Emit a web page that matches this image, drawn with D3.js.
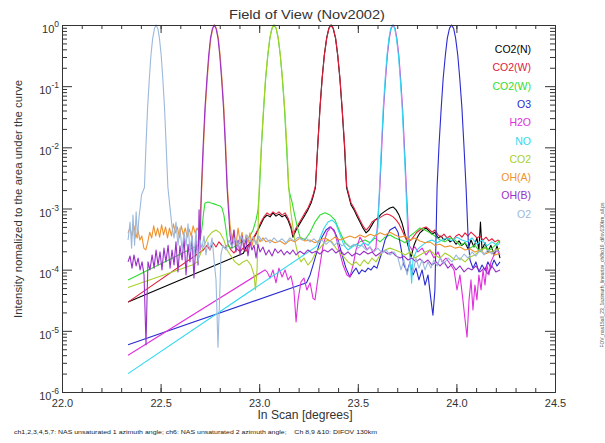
<!DOCTYPE html>
<html>
<head>
<meta charset="utf-8">
<title>Field of View (Nov2002)</title>
<script src="https://d3js.org/d3.v7.min.js"></script>
<style>
  body { margin: 0; background: #fff; }
  svg { display: block; font-family: 'Liberation Sans', Arial, sans-serif; }
  .axis path, .axis line { stroke: #333; stroke-width: 1px; }
  .axis text { font-family: 'Liberation Sans', Arial, sans-serif; font-size: 11px; fill: #333; }
  .trace { fill: none; stroke-width: 1.1px; stroke-linejoin: round; }
  .lbl { fill: #333; }
</style>
</head>
<body>
<svg width="605" height="443"></svg>
<script>
// [scan angle in degrees, normalized intensity]
const co2nData = [[22.335,2.95e-5],[22.92,1.85e-4],[22.933,2.35e-4],[22.948,2.6e-4],[22.963,3.05e-4],[22.979,3.55e-4],[22.994,4.45e-4],[23.009,5.6e-4],[23.024,7.0e-4],[23.04,7.8e-4],[23.055,7.3e-4],[23.07,8.5e-4],[23.085,7.5e-4],[23.1,8.1e-4],[23.116,7.3e-4],[23.131,7.8e-4],[23.146,6.5e-4],[23.161,4.8e-4],[23.171,3.4e-4],[23.187,4.45e-4],[23.202,5.4e-4],[23.217,6.5e-4],[23.232,7.8e-4],[23.247,9.5e-4],[23.263,1.23e-3],[23.273,1.55e-3],[23.285,2.2e-3],[23.297,0.011],[23.308,0.044],[23.319,0.135],[23.33,0.32],[23.342,0.61],[23.353,0.88],[23.364,1],[23.375,0.88],[23.387,0.61],[23.398,0.32],[23.409,0.135],[23.42,0.044],[23.432,0.011],[23.443,2.2e-3],[23.466,1.14e-3],[23.481,9.5e-4],[23.496,7.5e-4],[23.511,6.0e-4],[23.526,4.8e-4],[23.542,4.0e-4],[23.557,4.45e-4],[23.572,5.4e-4],[23.587,6.5e-4],[23.602,7.0e-4],[23.618,8.1e-4],[23.633,8.8e-4],[23.648,9.5e-4],[23.663,1.02e-3],[23.679,1.06e-3],[23.694,9.5e-4],[23.709,7.8e-4],[23.724,5.8e-4],[23.74,3.7e-4],[23.755,2.45e-4],[23.77,1.61e-4],[23.785,2.5e-4],[23.8,3.3e-4],[23.815,4.0e-4],[23.831,4.45e-4],[23.846,4.8e-4],[23.861,4.3e-4],[23.876,3.8e-4],[23.891,4.1e-4],[23.907,3.3e-4],[23.922,3.55e-4],[23.937,3.05e-4],[23.952,3.3e-4],[23.968,2.85e-4],[23.983,3.05e-4],[23.998,2.6e-4],[24.013,2.95e-4],[24.028,2.5e-4],[24.044,2.75e-4],[24.059,2.2e-4],[24.074,3.05e-4],[24.089,2.35e-4],[24.104,3.3e-4],[24.114,2.1e-4],[24.122,6.0e-4],[24.13,2.1e-4],[24.145,2.75e-4],[24.16,1.95e-4],[24.175,2.5e-4],[24.191,1.74e-4],[24.206,2.45e-4],[24.221,1.55e-4]];

const co2wRedData = [[22.335,2.95e-5],[22.717,2.1e-4],[22.735,2.5e-4],[22.75,2.1e-4],[22.766,2.75e-4],[22.781,2.35e-4],[22.796,2.85e-4],[22.811,2.5e-4],[22.827,2.25e-4],[22.842,2.6e-4],[22.857,2.1e-4],[22.872,1.87e-4],[22.887,2.2e-4],[22.903,1.95e-4],[22.918,2.25e-4],[22.933,2.0e-4],[22.948,2.5e-4],[22.963,3.05e-4],[22.979,3.7e-4],[22.994,4.6e-4],[23.009,6.0e-4],[23.024,7.3e-4],[23.04,8.5e-4],[23.055,7.8e-4],[23.07,8.8e-4],[23.085,8.1e-4],[23.1,8.8e-4],[23.116,7.8e-4],[23.131,8.5e-4],[23.146,7.0e-4],[23.161,5.2e-4],[23.171,3.7e-4],[23.187,4.8e-4],[23.202,5.8e-4],[23.217,7.0e-4],[23.232,8.5e-4],[23.247,1.02e-3],[23.263,1.33e-3],[23.273,1.66e-3],[23.286,2.4e-3],[23.298,0.012],[23.309,0.046],[23.32,0.14],[23.331,0.33],[23.343,0.62],[23.354,0.885],[23.365,1],[23.376,0.88],[23.388,0.6],[23.399,0.31],[23.41,0.13],[23.421,0.042],[23.433,0.011],[23.444,2.3e-3],[23.466,1.23e-3],[23.481,1.02e-3],[23.496,8.1e-4],[23.511,6.5e-4],[23.526,5.2e-4],[23.542,4.45e-4],[23.557,5.0e-4],[23.572,6.0e-4],[23.587,6.5e-4],[23.602,6.7e-4],[23.618,7.3e-4],[23.633,7.8e-4],[23.648,8.1e-4],[23.663,7.8e-4],[23.679,7.3e-4],[23.694,6.5e-4],[23.709,5.6e-4],[23.724,4.45e-4],[23.74,3.4e-4],[23.755,2.85e-4],[23.77,3.05e-4],[23.785,3.55e-4],[23.8,4.1e-4],[23.815,4.45e-4],[23.831,4.8e-4],[23.846,5.0e-4],[23.861,4.6e-4],[23.876,4.1e-4],[23.891,4.45e-4],[23.907,3.7e-4],[23.922,3.4e-4],[23.937,3.8e-4],[23.952,3.3e-4],[23.968,3.55e-4],[23.983,3.05e-4],[23.998,3.55e-4],[24.013,3.8e-4],[24.028,3.4e-4],[24.044,4.0e-4],[24.059,3.55e-4],[24.074,4.1e-4],[24.089,3.7e-4],[24.104,3.3e-4],[24.12,3.55e-4],[24.135,3.05e-4],[24.15,3.4e-4],[24.165,2.95e-4],[24.18,3.2e-4],[24.196,2.85e-4],[24.211,3.05e-4],[24.221,2.75e-4]];

const co2wGreenData = [[22.335,6.8e-5],[22.691,2.5e-4],[22.70,3.05e-4],[22.71,4.8e-4],[22.718,8.5e-4],[22.725,1.23e-3],[22.74,1.28e-3],[22.756,1.23e-3],[22.771,1.19e-3],[22.786,1.14e-3],[22.801,1.1e-3],[22.811,1.02e-3],[22.821,7.8e-4],[22.832,4.45e-4],[22.842,2.5e-4],[22.852,2.25e-4],[22.872,2.35e-4],[22.893,2.6e-4],[22.913,2.85e-4],[22.933,3.05e-4],[22.953,3.55e-4],[22.969,4.45e-4],[22.984,6.5e-4],[22.994,9.5e-4],[23.002,2.2e-3],[23.012,0.011],[23.023,0.044],[23.033,0.135],[23.044,0.32],[23.054,0.61],[23.065,0.88],[23.075,1],[23.086,0.88],[23.096,0.61],[23.107,0.32],[23.117,0.135],[23.128,0.044],[23.138,0.011],[23.149,2.2e-3],[23.158,1.6e-3],[23.166,1.3e-3],[23.18,7.8e-4],[23.197,4.45e-4],[23.207,3.4e-4],[23.232,3.05e-4],[23.258,4.1e-4],[23.283,6.0e-4],[23.308,7.8e-4],[23.334,8.5e-4],[23.359,7.8e-4],[23.384,6.5e-4],[23.41,4.1e-4],[23.435,2.75e-4],[23.46,2.35e-4],[23.486,2.5e-4],[23.511,2.85e-4],[23.537,3.05e-4],[23.562,2.75e-4],[23.587,3.3e-4],[23.613,2.85e-4],[23.638,3.4e-4],[23.663,3.7e-4],[23.689,3.3e-4],[23.714,3.05e-4],[23.74,2.75e-4],[23.765,3.55e-4],[23.79,4.1e-4],[23.815,4.8e-4],[23.841,4.45e-4],[23.866,4.0e-4],[23.891,3.55e-4],[23.917,3.05e-4],[23.942,2.85e-4],[23.968,3.3e-4],[23.993,3.05e-4],[24.018,2.5e-4],[24.044,2.75e-4],[24.069,2.25e-4],[24.094,2.5e-4],[24.12,1.95e-4],[24.145,2.35e-4],[24.17,2.1e-4],[24.196,2.5e-4],[24.221,3.05e-4]];

const o3Data = [[22.335,5.9e-6],[23.24,6.1e-5],[23.258,8.2e-5],[23.273,1.19e-4],[23.288,1.74e-4],[23.303,2.5e-4],[23.318,3.4e-4],[23.339,4.45e-4],[23.359,5.0e-4],[23.379,4.45e-4],[23.4,3.05e-4],[23.42,1.74e-4],[23.44,1.06e-4],[23.46,7.6e-5],[23.476,9.2e-5],[23.491,1.06e-4],[23.506,8.5e-5],[23.521,9.9e-5],[23.537,9.2e-5],[23.552,1.06e-4],[23.567,9.9e-5],[23.582,1.15e-4],[23.597,1.06e-4],[23.618,1.74e-4],[23.638,3.05e-4],[23.663,4.45e-4],[23.689,5.0e-4],[23.704,4.1e-4],[23.719,2.25e-4],[23.734,1.19e-4],[23.75,9.2e-5],[23.765,1.34e-4],[23.78,8.2e-5],[23.795,1.06e-4],[23.81,6.8e-5],[23.826,9.9e-5],[23.841,5.6e-5],[23.856,8.2e-5],[23.871,3.2e-5],[23.881,1.8e-5],[23.891,4.65e-5],[23.902,2.2e-3],[23.912,0.011],[23.923,0.044],[23.933,0.135],[23.944,0.32],[23.954,0.61],[23.965,0.88],[23.975,1],[23.986,0.88],[23.996,0.61],[24.007,0.32],[24.017,0.135],[24.028,0.044],[24.038,0.011],[24.049,2.2e-3],[24.06,3.0e-4],[24.069,1.44e-4],[24.084,1.06e-4],[24.099,1.34e-4],[24.114,9.2e-5],[24.13,1.19e-4],[24.145,9.9e-5],[24.16,1.34e-4],[24.175,1.06e-4],[24.191,1.44e-4],[24.206,1.15e-4],[24.221,1.34e-4]];

const h2oData = [[22.335,4.0e-6],[23.029,9.9e-5],[23.04,9.2e-5],[23.055,7.3e-5],[23.07,9.9e-5],[23.085,6.1e-5],[23.1,1.06e-4],[23.116,7.6e-5],[23.131,9.9e-5],[23.146,6.8e-5],[23.161,7.9e-5],[23.176,4.65e-5],[23.187,1.4e-5],[23.197,3.2e-5],[23.212,6.3e-5],[23.227,7.3e-5],[23.242,4.65e-5],[23.258,6.1e-5],[23.273,3.4e-5],[23.283,3.2e-5],[23.293,5.6e-5],[23.308,1.19e-4],[23.324,2.5e-4],[23.344,4.1e-4],[23.364,5.0e-4],[23.384,4.0e-4],[23.405,2.1e-4],[23.425,1.19e-4],[23.445,8.2e-5],[23.46,7.6e-5],[23.476,1.19e-4],[23.491,2.1e-4],[23.511,3.4e-4],[23.526,2.85e-4],[23.547,2.1e-4],[23.562,2.35e-4],[23.577,1.95e-4],[23.592,2.25e-4],[23.612,2.2e-3],[23.622,0.011],[23.631,0.044],[23.641,0.135],[23.65,0.32],[23.66,0.61],[23.669,0.88],[23.679,1],[23.689,0.88],[23.698,0.61],[23.708,0.32],[23.717,0.135],[23.727,0.044],[23.736,0.011],[23.746,2.2e-3],[23.76,2.5e-4],[23.775,2.1e-4],[23.79,2.35e-4],[23.805,1.95e-4],[23.826,2.25e-4],[23.846,1.74e-4],[23.866,2.1e-4],[23.886,1.55e-4],[23.907,1.95e-4],[23.927,1.34e-4],[23.947,1.55e-4],[23.968,1.24e-4],[23.988,9.9e-5],[24.003,4.65e-5],[24.018,8.2e-5],[24.033,3.2e-5],[24.044,1.5e-5],[24.054,7.9e-6],[24.064,3.2e-5],[24.074,6.8e-5],[24.084,2.2e-5],[24.094,5.6e-5],[24.104,3.2e-5],[24.114,8.2e-5],[24.125,4.65e-5],[24.135,9.9e-5],[24.145,5.6e-5],[24.155,1.19e-4],[24.165,8.2e-5],[24.175,1.34e-4],[24.191,1.74e-4],[24.206,2.1e-4],[24.221,1.74e-4]];

const noData = [[22.335,2.0e-6],[23.291,2.4e-4],[23.308,3.3e-4],[23.329,4.8e-4],[23.349,6.0e-4],[23.369,6.5e-4],[23.389,5.6e-4],[23.41,3.7e-4],[23.43,2.5e-4],[23.45,2.1e-4],[23.471,2.35e-4],[23.491,2.6e-4],[23.511,2.45e-4],[23.531,2.75e-4],[23.552,2.5e-4],[23.572,3.05e-4],[23.592,3.7e-4],[23.602,4.8e-4],[23.61,2.2e-3],[23.62,0.011],[23.629,0.044],[23.639,0.135],[23.648,0.32],[23.658,0.61],[23.667,0.88],[23.677,1],[23.687,0.88],[23.696,0.61],[23.706,0.32],[23.715,0.135],[23.725,0.044],[23.734,0.011],[23.744,2.2e-3],[23.755,3.0e-4],[23.765,1.5e-4],[23.773,6.0e-5],[23.78,1.5e-4],[23.8,2.1e-4],[23.826,2.5e-4],[23.851,2.85e-4],[23.876,3.05e-4],[23.902,2.75e-4],[23.927,3.05e-4],[23.952,3.3e-4],[23.978,2.95e-4],[24.003,3.4e-4],[24.028,3.05e-4],[24.054,2.85e-4],[24.079,3.3e-4],[24.104,2.6e-4],[24.13,3.05e-4],[24.155,2.45e-4],[24.18,2.85e-4],[24.206,2.5e-4],[24.221,2.75e-4]];

const co2Data = [[22.335,5.1e-5],[22.664,1.2e-4],[22.685,1.34e-4],[22.70,1.74e-4],[22.72,2.5e-4],[22.74,3.4e-4],[22.761,4.1e-4],[22.781,4.45e-4],[22.801,4.0e-4],[22.821,3.05e-4],[22.837,2.1e-4],[22.857,1.67e-4],[22.877,1.34e-4],[22.898,1.19e-4],[22.918,1.34e-4],[22.938,1.44e-4],[22.958,1.19e-4],[22.974,8.2e-5],[22.981,4.65e-5],[22.989,9.9e-5],[23.0,2.2e-3],[23.011,0.011],[23.022,0.044],[23.032,0.135],[23.043,0.32],[23.054,0.61],[23.064,0.88],[23.075,1],[23.086,0.88],[23.097,0.61],[23.107,0.32],[23.118,0.135],[23.129,0.044],[23.14,0.011],[23.15,2.2e-3],[23.16,9.0e-4],[23.18,3.05e-4],[23.197,1.74e-4],[23.212,1.34e-4],[23.227,1.55e-4],[23.247,1.19e-4],[23.268,1.44e-4],[23.288,1.95e-4],[23.308,2.25e-4],[23.329,2.75e-4],[23.349,3.05e-4],[23.369,2.85e-4],[23.389,2.25e-4],[23.41,1.87e-4],[23.43,1.61e-4],[23.45,1.34e-4],[23.471,1.19e-4],[23.491,1.34e-4],[23.511,1.15e-4],[23.531,1.44e-4],[23.552,1.24e-4],[23.572,1.55e-4],[23.592,1.34e-4],[23.613,1.74e-4],[23.638,2.1e-4],[23.663,2.25e-4],[23.689,2.1e-4],[23.714,1.95e-4],[23.74,1.74e-4],[23.765,1.95e-4],[23.79,1.55e-4],[23.815,1.74e-4],[23.841,1.95e-4],[23.866,2.1e-4],[23.891,1.74e-4],[23.917,1.55e-4],[23.942,1.87e-4],[23.968,1.67e-4],[23.993,1.44e-4],[24.018,1.55e-4],[24.044,1.34e-4],[24.069,1.61e-4],[24.094,1.74e-4],[24.12,2.1e-4],[24.145,2.25e-4],[24.17,1.95e-4],[24.196,2.1e-4],[24.221,2.25e-4]];

const ohaData = [[22.335,4.0e-4],[22.345,4.8e-4],[22.355,3.55e-4],[22.365,5.2e-4],[22.375,3.3e-4],[22.385,4.45e-4],[22.395,3.05e-4],[22.405,3.55e-4],[22.415,2.25e-4],[22.425,2.1e-4],[22.435,2.85e-4],[22.445,4.1e-4],[22.455,3.3e-4],[22.465,5.2e-4],[22.475,3.55e-4],[22.485,4.8e-4],[22.495,3.4e-4],[22.505,5.4e-4],[22.515,3.7e-4],[22.525,5.0e-4],[22.535,3.3e-4],[22.545,4.8e-4],[22.555,3.55e-4],[22.565,5.6e-4],[22.575,4.0e-4],[22.585,5.0e-4],[22.595,3.3e-4],[22.605,5.2e-4],[22.615,3.7e-4],[22.625,4.8e-4],[22.635,3.4e-4],[22.645,4.6e-4],[22.655,3.55e-4],[22.665,5.2e-4],[22.675,4.0e-4],[22.685,4.8e-4],[22.695,4.1e-4],[22.709,2.2e-3],[22.718,0.011],[22.727,0.044],[22.737,0.135],[22.746,0.32],[22.755,0.61],[22.765,0.88],[22.774,1],[22.783,0.88],[22.793,0.61],[22.802,0.32],[22.811,0.135],[22.821,0.044],[22.83,0.011],[22.839,2.2e-3],[22.852,5.4e-4],[22.862,3.05e-4],[22.872,4.45e-4],[22.882,2.5e-4],[22.893,4.8e-4],[22.903,2.85e-4],[22.913,4.1e-4],[22.923,2.35e-4],[22.933,3.7e-4],[22.943,2.75e-4],[22.953,4.0e-4],[22.963,2.45e-4],[22.974,3.4e-4],[22.984,2.6e-4],[22.994,3.55e-4],[23.004,2.85e-4],[23.019,3.3e-4],[23.034,2.85e-4],[23.055,3.05e-4],[23.08,2.75e-4],[23.105,2.95e-4],[23.131,2.6e-4],[23.156,3.05e-4],[23.18,2.85e-4],[23.207,3.3e-4],[23.232,2.95e-4],[23.258,3.05e-4],[23.283,2.75e-4],[23.308,3.05e-4],[23.334,3.3e-4],[23.359,2.95e-4],[23.384,3.4e-4],[23.41,3.05e-4],[23.435,3.3e-4],[23.46,3.55e-4],[23.486,3.3e-4],[23.511,3.7e-4],[23.537,3.4e-4],[23.562,3.8e-4],[23.587,3.55e-4],[23.613,4.0e-4],[23.638,3.7e-4],[23.663,4.1e-4],[23.689,3.7e-4],[23.714,3.4e-4],[23.74,3.55e-4],[23.765,3.05e-4],[23.79,3.3e-4],[23.815,2.95e-4],[23.841,2.75e-4],[23.866,2.85e-4],[23.891,2.5e-4],[23.917,2.6e-4],[23.942,2.35e-4],[23.968,2.45e-4],[23.993,2.25e-4],[24.018,2.35e-4],[24.044,2.1e-4],[24.069,2.2e-4],[24.094,1.95e-4],[24.12,2.1e-4],[24.145,1.8e-4],[24.17,1.95e-4],[24.196,1.74e-4],[24.221,1.87e-4]];

const ohbData = [[22.335,1.34e-4],[22.345,1.67e-4],[22.355,1.06e-4],[22.365,1.74e-4],[22.376,1.15e-4],[22.386,1.55e-4],[22.396,9.9e-5],[22.406,1.34e-4],[22.416,8.2e-5],[22.426,5.9e-6],[22.431,3.2e-5],[22.436,1.34e-4],[22.446,9.9e-5],[22.457,1.74e-4],[22.467,1.06e-4],[22.477,2.1e-4],[22.487,1.19e-4],[22.497,1.95e-4],[22.507,9.9e-5],[22.517,2.25e-4],[22.527,1.34e-4],[22.538,2.5e-4],[22.548,1.06e-4],[22.558,2.1e-4],[22.568,1.19e-4],[22.578,2.85e-4],[22.588,9.2e-5],[22.598,2.45e-4],[22.609,1.44e-4],[22.619,3.3e-4],[22.629,8.2e-5],[22.639,2.6e-4],[22.649,1.34e-4],[22.659,3.55e-4],[22.669,7.3e-5],[22.68,3.05e-4],[22.69,1.19e-4],[22.695,9.5e-4],[22.70,2.1e-4],[22.707,2.2e-3],[22.716,0.011],[22.725,0.044],[22.735,0.135],[22.744,0.32],[22.753,0.61],[22.763,0.88],[22.772,1],[22.781,0.88],[22.791,0.61],[22.8,0.32],[22.809,0.135],[22.819,0.044],[22.828,0.011],[22.837,2.2e-3],[22.852,3.7e-4],[22.862,2.25e-4],[22.872,4.45e-4],[22.882,1.95e-4],[22.893,3.05e-4],[22.903,1.74e-4],[22.913,3.55e-4],[22.923,2.1e-4],[22.933,3.3e-4],[22.943,1.67e-4],[22.953,2.85e-4],[22.963,2.1e-4],[22.974,2.5e-4],[22.984,1.55e-4],[22.994,2.6e-4],[23.004,1.95e-4],[23.019,2.35e-4],[23.034,1.74e-4],[23.049,2.1e-4],[23.065,1.67e-4],[23.08,2.2e-4],[23.095,1.87e-4],[23.111,2.1e-4],[23.126,1.74e-4],[23.141,2.0e-4],[23.156,1.8e-4],[23.171,2.1e-4],[23.187,1.74e-4],[23.207,2.0e-4],[23.227,1.8e-4],[23.247,2.1e-4],[23.268,1.87e-4],[23.288,2.0e-4],[23.308,1.8e-4],[23.329,2.1e-4],[23.349,1.95e-4],[23.369,2.2e-4],[23.389,1.87e-4],[23.41,2.1e-4],[23.43,1.74e-4],[23.45,1.95e-4],[23.471,1.67e-4],[23.491,1.87e-4],[23.511,1.74e-4],[23.531,2.0e-4],[23.552,1.8e-4],[23.572,1.95e-4],[23.592,1.67e-4],[23.613,1.87e-4],[23.633,2.0e-4],[23.653,1.8e-4],[23.673,1.95e-4],[23.694,1.67e-4],[23.714,1.55e-4],[23.734,1.67e-4],[23.755,1.44e-4],[23.775,1.55e-4],[23.795,1.34e-4],[23.815,1.5e-4],[23.836,1.29e-4],[23.856,1.44e-4],[23.876,1.19e-4],[23.897,1.34e-4],[23.917,1.15e-4],[23.937,1.34e-4],[23.957,1.06e-4],[23.978,1.24e-4],[23.998,9.9e-5],[24.018,1.15e-4],[24.039,9.2e-5],[24.059,1.06e-4],[24.079,9.9e-5],[24.099,1.15e-4],[24.12,9.2e-5],[24.14,1.06e-4],[24.16,8.5e-5],[24.18,1.15e-4],[24.2,9.2e-5],[24.221,9.9e-5]];

const o2Data = [[22.335,3.05e-4],[22.345,6.0e-4],[22.353,2.25e-4],[22.36,7.8e-4],[22.368,2.5e-4],[22.376,8.8e-4],[22.383,3.3e-4],[22.39,7.0e-4],[22.398,1.14e-3],[22.403,1.66e-3],[22.418,2.2e-3],[22.426,0.011],[22.434,0.044],[22.443,0.135],[22.451,0.32],[22.46,0.61],[22.469,0.88],[22.477,1],[22.486,0.88],[22.494,0.61],[22.503,0.32],[22.511,0.135],[22.52,0.044],[22.528,0.011],[22.537,2.2e-3],[22.558,5.0e-4],[22.568,3.3e-4],[22.578,6.0e-4],[22.588,2.5e-4],[22.598,4.8e-4],[22.609,2.1e-4],[22.619,4.1e-4],[22.629,2.45e-4],[22.639,5.6e-4],[22.649,1.95e-4],[22.659,3.7e-4],[22.669,1.55e-4],[22.68,4.45e-4],[22.69,1.34e-4],[22.70,3.05e-4],[22.71,2.25e-4],[22.72,3.55e-4],[22.73,1.74e-4],[22.74,2.85e-4],[22.75,2.1e-4],[22.761,3.3e-4],[22.771,1.44e-4],[22.781,6.8e-5],[22.791,5.4e-6],[22.799,3.2e-5],[22.806,1.74e-4],[22.816,2.5e-4],[22.832,2.1e-4],[22.847,3.05e-4],[22.862,2.35e-4],[22.877,3.3e-4],[22.893,2.5e-4],[22.908,3.55e-4],[22.923,2.75e-4],[22.938,3.7e-4],[22.953,2.85e-4],[22.969,3.4e-4],[22.984,2.6e-4],[22.999,3.55e-4],[23.014,2.95e-4],[23.034,3.3e-4],[23.055,2.75e-4],[23.075,3.3e-4],[23.095,2.85e-4],[23.116,3.2e-4],[23.136,2.75e-4],[23.156,3.3e-4],[23.176,2.95e-4],[23.197,3.4e-4],[23.217,3.05e-4],[23.237,3.3e-4],[23.258,2.85e-4],[23.278,3.2e-4],[23.298,2.75e-4],[23.318,3.05e-4],[23.339,2.6e-4],[23.359,2.95e-4],[23.379,2.5e-4],[23.4,2.85e-4],[23.42,2.45e-4],[23.44,2.75e-4],[23.46,2.35e-4],[23.481,2.6e-4],[23.501,2.25e-4],[23.521,2.5e-4],[23.542,2.1e-4],[23.562,2.35e-4],[23.582,1.95e-4],[23.602,2.25e-4],[23.623,1.87e-4],[23.643,2.1e-4],[23.663,1.74e-4],[23.684,1.95e-4],[23.704,1.55e-4],[23.719,9.9e-5],[23.734,1.44e-4],[23.75,8.2e-5],[23.765,1.34e-4],[23.78,9.2e-5],[23.795,1.55e-4],[23.81,1.06e-4],[23.826,1.44e-4],[23.841,9.9e-5],[23.856,1.34e-4],[23.871,1.06e-4],[23.886,1.44e-4],[23.902,1.15e-4],[23.917,1.55e-4],[23.937,1.24e-4],[23.957,1.55e-4],[23.978,1.34e-4],[23.998,1.74e-4],[24.018,1.44e-4],[24.039,1.8e-4],[24.059,1.55e-4],[24.079,1.95e-4],[24.099,1.67e-4],[24.12,2.1e-4],[24.14,1.74e-4],[24.16,2.1e-4],[24.18,1.8e-4],[24.2,2.1e-4],[24.221,1.95e-4]];

// legend order = drawing order
const seriesNames = ["CO2(N)", "CO2(W)", "CO2(W)", "O3", "H2O", "NO", "CO2", "OH(A)", "OH(B)", "O2"];
const seriesData = [co2nData, co2wRedData, co2wGreenData, o3Data, h2oData, noData, co2Data, ohaData, ohbData, o2Data];
const seriesColors = ["#000000", "#e0203c", "#30dd30", "#2a2ad0", "#e030dc", "#30d8f0", "#a8d02c", "#f0922c", "#9a30c8", "#9cb9dc"];

const xTicks = [22.0, 22.5, 23.0, 23.5, 24.0, 24.5];
const yTicks = [1e-6, 1e-5, 1e-4, 1e-3, 1e-2, 1e-1, 1];
const yExponents = ["-6", "-5", "-4", "-3", "-2", "-1", "0"];

const svg = d3.select("svg");
svg.append("rect").attr("width", 605).attr("height", 443).attr("fill", "#fff");

const x = d3.scaleLinear().domain([22, 24.5]).range([62, 555]);
const y = d3.scaleLog().domain([1e-6, 1]).range([392, 25]);

// minor ticks: every 0.1 deg on x, 2..9 per decade on y
const xMinor = d3.range(0, 26).map(i => 22 + i * 0.1);
const yMinor = y.ticks().filter(v => Math.abs(Math.log10(v) - Math.round(Math.log10(v))) > 1e-6);

// clip to the plot frame
svg.append("defs").append("clipPath").attr("id", "plotClip")
  .append("rect").attr("x", 62).attr("y", 24).attr("width", 493).attr("height", 368);

const line = d3.line().x(d => x(d[0])).y(d => y(d[1]));

svg.append("g").attr("clip-path", "url(#plotClip)")
  .selectAll("path")
  .data(seriesData)
  .join("path")
  .attr("class", "trace")
  .attr("stroke", (d, i) => seriesColors[i])
  .attr("d", line);

// axes, ticks pointing inward
function addAxis(gen, tx, ty) {
  const g = svg.append("g").attr("class", "axis")
    .attr("transform", `translate(${tx},${ty})`)
    .call(gen);
  g.attr("font-family", null).attr("font-size", null);
  return g;
}
addAxis(d3.axisBottom(x).tickValues(xMinor).tickSizeInner(-4).tickSizeOuter(0).tickFormat(""), 0, 392);
addAxis(d3.axisBottom(x).tickValues(xTicks).tickSizeInner(-8).tickSizeOuter(0).tickPadding(7).tickFormat(d3.format(".1f")), 0, 392);
addAxis(d3.axisTop(x).tickValues(xMinor).tickSizeInner(-4).tickSizeOuter(0).tickFormat(""), 0, 25);
addAxis(d3.axisTop(x).tickValues(xTicks).tickSizeInner(-8).tickSizeOuter(0).tickFormat(""), 0, 25);
addAxis(d3.axisLeft(y).tickValues(yMinor).tickSizeInner(-5).tickSizeOuter(0).tickFormat(""), 62, 0);
addAxis(d3.axisLeft(y).tickValues(yTicks).tickSizeInner(-10).tickSizeOuter(0).tickFormat(""), 62, 0);
addAxis(d3.axisRight(y).tickValues(yMinor).tickSizeInner(-5).tickSizeOuter(0).tickFormat(""), 555, 0);
addAxis(d3.axisRight(y).tickValues(yTicks).tickSizeInner(-10).tickSizeOuter(0).tickFormat(""), 555, 0);

// y tick labels 10^n
const yl = svg.append("g").selectAll("text")
  .data(yTicks)
  .join("text")
  .attr("class", "lbl")
  .attr("x", 59)
  .attr("y", d => y(d) + 8)
  .attr("text-anchor", "end")
  .attr("font-size", 11);
yl.append("tspan").text("10");
yl.append("tspan").attr("dy", -6).attr("font-size", 8.5).text((d, i) => yExponents[i]);

// titles
svg.append("text").attr("class", "lbl")
  .attr("x", 307).attr("y", 19).attr("text-anchor", "middle")
  .attr("font-size", 13).attr("textLength", 156).attr("lengthAdjust", "spacingAndGlyphs")
  .text("Field of View (Nov2002)");

svg.append("text").attr("class", "lbl")
  .attr("x", 305).attr("y", 419).attr("text-anchor", "middle")
  .attr("font-size", 12).attr("textLength", 95).attr("lengthAdjust", "spacingAndGlyphs")
  .text("In Scan [degrees]");

svg.append("text").attr("class", "lbl")
  .attr("transform", "translate(22,199) rotate(-90)")
  .attr("text-anchor", "middle")
  .attr("font-size", 10.5).attr("textLength", 238).attr("lengthAdjust", "spacingAndGlyphs")
  .text("Intensity nomalized to the area under the curve");

svg.append("text").attr("fill", "#222")
  .attr("x", 14).attr("y", 434)
  .attr("font-size", 6.2).attr("textLength", 363).attr("lengthAdjust", "spacingAndGlyphs")
  .attr("xml:space", "preserve")
  .text("ch1,2,3,4,5,7: NAS unsaturated 1 azimuth angle; ch6: NAS unsaturated 2 azimuth angle;    Ch 8,9 &10: DIFOV 130km");

svg.append("text").attr("fill", "#555")
  .attr("transform", "translate(604,275) rotate(-90)")
  .attr("text-anchor", "middle")
  .attr("font-size", 4.5).attr("textLength", 145).attr("lengthAdjust", "spacingAndGlyphs")
  .text("FOV_nas15all_23_1azimuth_linearize_ch8to10_difov130km_all.ps");

// legend, right aligned
svg.append("g").selectAll("text")
  .data(seriesNames)
  .join("text")
  .attr("x", 531)
  .attr("y", (d, i) => 53 + i * 18.3)
  .attr("text-anchor", "end")
  .attr("font-size", 10.5)
  .attr("fill", (d, i) => seriesColors[i])
  .text(d => d);
</script>
</body>
</html>
